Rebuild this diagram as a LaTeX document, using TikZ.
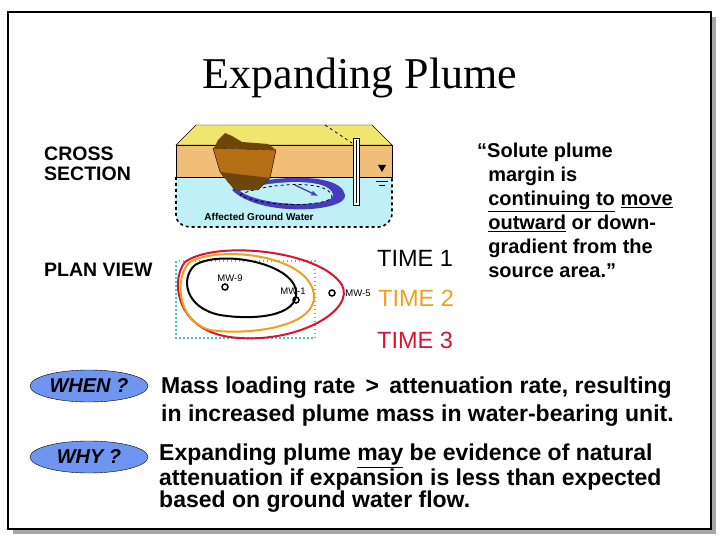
\documentclass[tikz,border=0pt]{standalone}
\usepackage{fontspec}
\setmainfont{Liberation Serif}
\setsansfont{Liberation Sans}
\usetikzlibrary{shapes.geometric}
\definecolor{ylw}{RGB}{240,230,110}
\definecolor{tan}{RGB}{240,190,120}
\definecolor{cyanw}{RGB}{190,240,245}
\definecolor{brn}{RGB}{180,110,20}
\definecolor{dbrn}{RGB}{110,70,10}
\definecolor{plm}{RGB}{70,60,190}
\definecolor{orng}{RGB}{240,160,30}
\definecolor{rd}{RGB}{215,20,50}
\definecolor{teal}{RGB}{60,200,190}
\definecolor{ovl}{RGB}{110,150,240}
\tikzset{lbl/.style={font=\sffamily\bfseries,anchor=west,inner sep=0pt},
 oval/.style={ellipse,draw=black,fill=ovl,font=\sffamily\bfseries\itshape\fontsize{20}{20}\selectfont,minimum width=118pt,minimum height=32pt,inner sep=0pt},
 well/.style={circle,draw=black,line width=1.5pt,minimum size=6pt,inner sep=0pt},
 tiny/.style={font=\sffamily\fontsize{9.5}{10}\selectfont,inner sep=0pt},
 timel/.style={lbl,font=\sffamily\fontsize{23.5}{23.5}\selectfont}}
\begin{document}
\begin{tikzpicture}[x=1pt,y=-1pt]
\useasboundingbox (0,0) rectangle (720,540);
\fill[gray!70] (13,17) rectangle (716,534);
\draw[line width=2pt,fill=white] (8,12) rectangle (711,529);
\node[font=\fontsize{44}{44}\selectfont] (title) at (360,78) {Expanding Plume};
\node[lbl,font=\sffamily\bfseries\fontsize{19.5}{20}\selectfont,align=left,anchor=north west] (cs) at (44,147) {CROSS\\SECTION};
\node[lbl,font=\sffamily\bfseries\fontsize{19.5}{20}\selectfont] (pv) at (44,270) {PLAN VIEW};
% cross section
\draw[dashed,line width=1.6pt,fill=cyanw] (176,177) -- (176,215) to[out=-90,in=180] (190,227) -- (378,227) to[out=0,in=-90] (392,213) -- (392,177);
\fill[tan,draw=black] (176,145) rectangle (392,177);
\fill[ylw,draw=black] (176,145) -- (196,125) -- (372,125) -- (392,145) -- cycle;
\draw[dashed,thick] (325,125) -- (352,143);
\fill[plm] (232,190) .. controls (250,178) and (340,168) .. (345,195) .. controls (348,212) and (260,218) .. cycle;
\fill[cyanw] (240,191) .. controls (260,182) and (330,175) .. (333,195) .. controls (334,207) and (265,208) .. cycle;
\draw[dashed,thick] (240,195) .. controls (260,184) and (328,178) .. (332,196) .. controls (333,206) and (268,209) .. cycle;
\draw[-latex,line width=1.3pt,plm] (295,185) -- (318,196);
\fill[brn,draw=black] (213,148) -- (276,150) -- (270,178) -- (258,190) -- (235,190) -- (220,172) -- cycle;
\fill[dbrn] (220,172) -- (270,178) -- (258,190) -- (235,190) -- cycle;
\fill[dbrn] (214,148) -- (218,140) -- (225,133) -- (232,136) -- (242,142) -- (268,144) -- (276,150) -- cycle;
\fill[white,draw=black] (353,138) rectangle (359,205);
\draw[line width=1pt] (356,140) -- (356,203);
\fill[black] (378,165) -- (386,165) -- (382,172) -- cycle;
\draw (376,177) -- (388,177) (376,181) -- (388,181) (379,185) -- (385,185);
\node[tiny,font=\sffamily\bfseries\fontsize{10}{10}\selectfont] (agw) at (259,217) {Affected Ground Water};
% plan view
\draw[teal,line width=2.6pt,dash pattern=on 1.5pt off 2.5pt] (176,261) rectangle (315,338);
\draw[rd,line width=2pt] (185,262) .. controls (215,240) and (320,250) .. (342,285) .. controls (355,310) and (300,342) .. (240,338) .. controls (175,335) and (170,280) .. (185,262);
\draw[orng,line width=2pt] (190,262) .. controls (220,245) and (310,255) .. (314,295) .. controls (316,330) and (240,335) .. (210,330) .. controls (175,320) and (175,275) .. (190,262);
\draw[black,line width=2pt] (195,265) .. controls (220,250) and (290,262) .. (296,290) .. controls (300,318) and (250,320) .. (220,315) .. controls (185,308) and (180,278) .. (195,265);
\node[well] (w9) at (225,287) {};
\node[well] (w1) at (296,300) {};
\node[well] (w5) at (332,293) {};
\node[tiny] (l9) at (230,278) {MW-9};
\node[tiny] (l1) at (293,291) {MW-1};
\node[tiny] (l5) at (358,293) {MW-5};
\node[timel] (t1) at (377,258) {TIME 1};
\node[timel,text=orng] (t2) at (378,298) {TIME 2};
\node[timel,text=rd] (t3) at (377,340) {TIME 3};
\node[lbl,font=\sffamily\bfseries\fontsize{20}{24}\selectfont,align=left,anchor=north west] (q) at (477,143) {``Solute plume\\\ \ margin is\\\ \ \underline{continuing to} \underline{move}\\\ \ \underline{outward} or down-\\\ \ gradient from the\\\ \ source area.''};
\node[oval] (when) at (89,386) {WHEN ?};
\node[oval] (why) at (89,457) {WHY ?};
\node[lbl,font=\sffamily\bfseries\fontsize{23}{28}\selectfont,align=left,anchor=north west] (a1) at (161,377) {Mass loading rate \,>\, attenuation rate, resulting\\in increased plume mass in water-bearing unit.};
\node[lbl,font=\sffamily\bfseries\fontsize{23}{22}\selectfont,align=left,anchor=north west] (a2) at (159,444) {Expanding plume \underline{may} be evidence of natural\\attenuation if expansion is less than expected\\based on ground water flow.};
\end{tikzpicture}
\end{document}
